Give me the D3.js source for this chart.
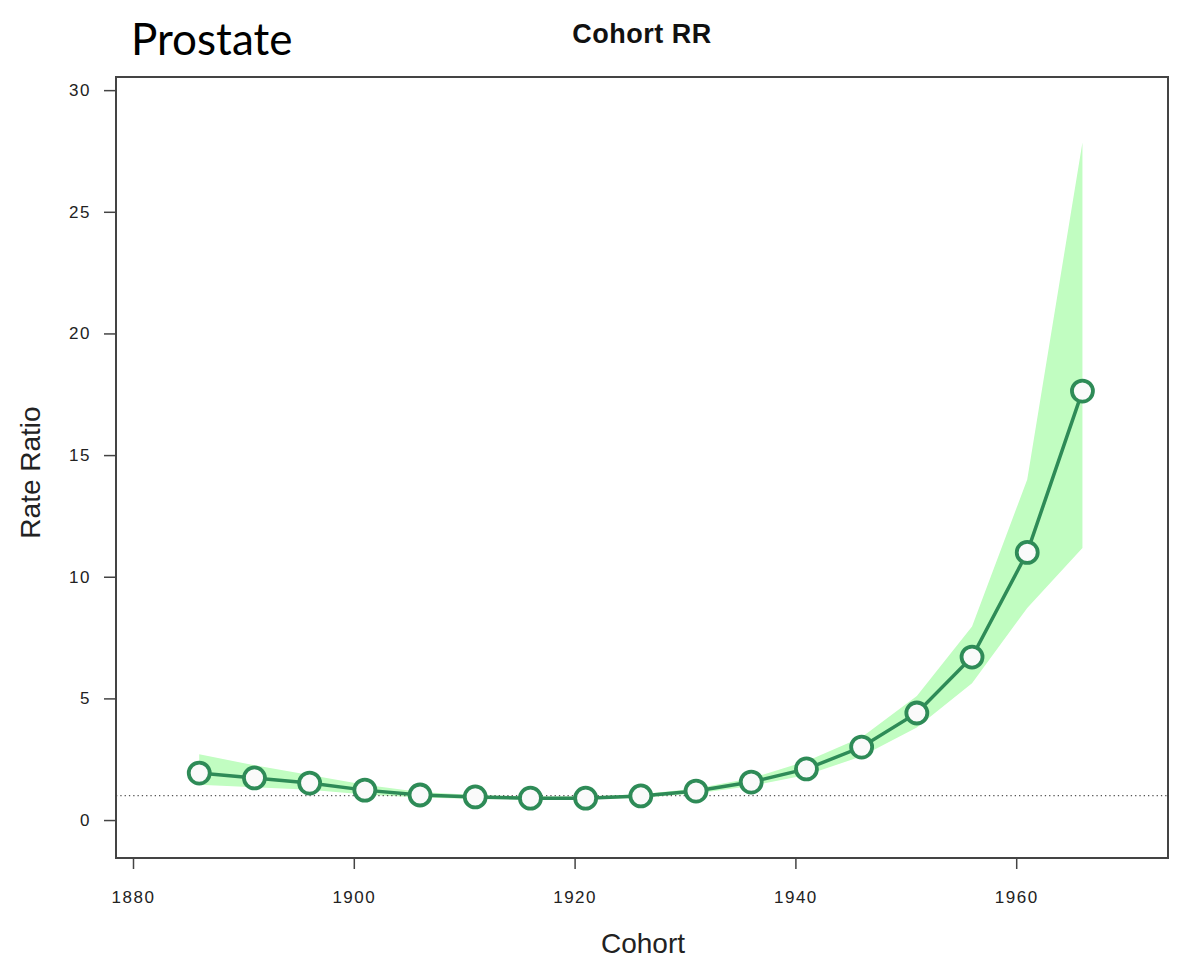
<!DOCTYPE html>
<html>
<head>
<meta charset="utf-8">
<script src="https://cdn.jsdelivr.net/npm/d3@7"></script>
<style>
  html, body { margin: 0; padding: 0; background: #fff; }
  svg { display: block; }
</style>
</head>
<body>
<svg id="chart" width="1192" height="980"></svg>
<script>
const cohorts = [1886, 1891, 1896, 1901, 1906, 1911, 1916, 1921, 1926, 1931, 1936, 1941, 1946, 1951, 1956, 1961, 1966];
const rr      = [1.93, 1.73, 1.52, 1.23, 1.03, 0.95, 0.90, 0.90, 0.99, 1.19, 1.56, 2.10, 3.00, 4.40, 6.70, 11.0, 17.63];
const rrUpper = [2.70, 2.25, 1.85, 1.45, 1.15, 1.03, 0.97, 0.97, 1.06, 1.30, 1.72, 2.42, 3.40, 5.10, 7.95, 14.0, 27.85];
const rrLower = [1.45, 1.35, 1.25, 1.05, 0.93, 0.87, 0.84, 0.84, 0.92, 1.09, 1.40, 1.85, 2.62, 3.80, 5.62, 8.72, 11.18];
const xTicks = [1880, 1900, 1920, 1940, 1960];
const yTicks = [0, 5, 10, 15, 20, 25, 30];
const refLine = 1;

const svg = d3.select("#chart");
const L = 116, R = 1168, T = 77, B = 858;

const x = d3.scaleLinear().domain([1878.46, 1973.75]).range([L, R]);
const y = d3.scaleLinear().domain([-1.56, 30.54]).range([B, T]);

const data = cohorts.map((c, i) => ({c, v: rr[i], lo: rrLower[i], hi: rrUpper[i]}));

// confidence band
svg.append("path")
  .datum(data)
  .attr("fill", "#c1fdc1")
  .attr("stroke", "none")
  .attr("d", d3.area().x(d => x(d.c)).y0(d => y(d.lo)).y1(d => y(d.hi)));

// reference dotted line
svg.append("line")
  .attr("x1", L).attr("x2", R)
  .attr("y1", y(refLine)).attr("y2", y(refLine))
  .attr("stroke", "#555").attr("stroke-width", 1.3)
  .attr("stroke-dasharray", "1.3,3");

// line
svg.append("path")
  .datum(data)
  .attr("fill", "none")
  .attr("stroke", "#2e8b57")
  .attr("stroke-width", 3.5)
  .attr("d", d3.line().x(d => x(d.c)).y(d => y(d.v)));

// points
svg.append("g").selectAll("circle")
  .data(data).join("circle")
  .attr("cx", d => x(d.c)).attr("cy", d => y(d.v))
  .attr("r", 10.5)
  .attr("fill", "#fafafa")
  .attr("stroke", "#2e8b57")
  .attr("stroke-width", 3.8);

// box
svg.append("rect")
  .attr("x", L).attr("y", T).attr("width", R - L).attr("height", B - T)
  .attr("fill", "none").attr("stroke", "#444").attr("stroke-width", 2);

const tickFont = "Liberation Sans, Arial, sans-serif";

// y axis
const yAxis = svg.append("g")
  .attr("transform", `translate(${L},0)`)
  .call(d3.axisLeft(y).tickValues(yTicks).tickSize(12).tickPadding(13).tickFormat(d3.format("d")));
yAxis.select(".domain").remove();
yAxis.selectAll(".tick line").attr("stroke", "#444").attr("stroke-width", 1.5);
yAxis.selectAll(".tick text").attr("font-family", tickFont)
  .attr("font-size", 17).attr("letter-spacing", 1.5).attr("fill", "#222");

// x axis
const xAxis = svg.append("g")
  .attr("transform", `translate(0,${B})`)
  .call(d3.axisBottom(x).tickValues(xTicks).tickSize(11).tickPadding(22).tickFormat(d3.format("d")));
xAxis.select(".domain").remove();
xAxis.selectAll(".tick line").attr("stroke", "#444").attr("stroke-width", 1.5);
xAxis.selectAll(".tick text").attr("font-family", tickFont)
  .attr("font-size", 17).attr("letter-spacing", 1.5).attr("fill", "#222");

// titles
svg.append("text")
  .attr("x", (L + R) / 2).attr("y", 43)
  .attr("text-anchor", "middle")
  .attr("font-family", "Liberation Sans, Arial, sans-serif")
  .attr("font-weight", "bold").attr("font-size", 27).attr("letter-spacing", 0.5).attr("fill", "#111")
  .text("Cohort RR");

svg.append("text")
  .attr("x", 131).attr("y", 55)
  .attr("font-family", "Lato, Carlito, Calibri, sans-serif")
  .attr("font-size", 44).attr("fill", "#000")
  .text("Prostate");

svg.append("text")
  .attr("x", (L + R) / 2 + 1).attr("y", 953)
  .attr("text-anchor", "middle")
  .attr("font-family", "Liberation Sans, Arial, sans-serif")
  .attr("font-size", 28).attr("fill", "#222")
  .text("Cohort");

svg.append("text")
  .attr("transform", `translate(40,${(T + B) / 2 + 5}) rotate(-90)`)
  .attr("text-anchor", "middle")
  .attr("font-family", "Liberation Sans, Arial, sans-serif")
  .attr("font-size", 28).attr("fill", "#222")
  .text("Rate Ratio");
</script>
</body>
</html>
